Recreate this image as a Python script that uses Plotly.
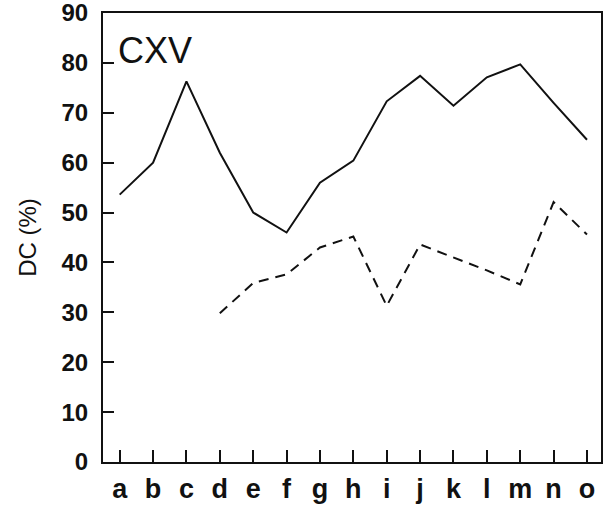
import plotly.graph_objects as go

categories = ["a", "b", "c", "d", "e", "f", "g", "h", "i", "j", "k", "l", "m", "n", "o"]
solid_values = [53.6, 60.0, 76.3, 62.0, 50.0, 46.0, 56.0, 60.4, 72.3, 77.4, 71.4, 77.1, 79.7, 72.0, 64.6]
dashed_values = [None, None, None, 29.8, 35.9, 37.6, 43.0, 45.2, 31.3, 43.6, 41.0, 38.4, 35.6, 52.1, 45.6]
y_ticks = [0, 10, 20, 30, 40, 50, 60, 70, 80, 90]
panel_label = "CXV"
y_title = "DC (%)"

FONT = "Liberation Sans, Arial, Helvetica, sans-serif"
INK = "#111111"

fig = go.Figure()
fig.add_trace(go.Scatter(x=categories, y=solid_values, mode="lines",
                         line=dict(color=INK, width=2), showlegend=False))
fig.add_trace(go.Scatter(x=categories, y=dashed_values, mode="lines",
                         line=dict(color=INK, width=2, dash="10px,7px"),
                         connectgaps=False, showlegend=False))

fig.add_annotation(text=panel_label, xref="paper", yref="paper", x=0.026, y=0.917,
                   xanchor="left", yanchor="middle", showarrow=False,
                   font=dict(family=FONT, size=36, color=INK))

fig.add_annotation(text=y_title, xref="paper", yref="paper", x=-0.152, y=0.5,
                   xanchor="center", yanchor="middle", textangle=-90, showarrow=False,
                   font=dict(family=FONT, size=24, color=INK))

fig.update_layout(
    width=605, height=508,
    margin=dict(l=103, r=4, t=13, b=46),
    paper_bgcolor="white", plot_bgcolor="white",
    font=dict(family=FONT, color=INK),
    xaxis=dict(type="category", range=[-0.5, 14.42], showgrid=False, zeroline=False,
               automargin=False, ticklabeloverflow="allow",
               showline=True, linecolor=INK, linewidth=2, mirror=True,
               ticks="inside", ticklen=12, tickwidth=2, tickcolor=INK,
               ticklabelstandoff=2,
               tickfont=dict(family=FONT, size=27, color=INK, weight="bold")),
    yaxis=dict(range=[0, 90], tickvals=y_ticks, showgrid=False, zeroline=False,
               automargin=False, ticklabeloverflow="allow",
               showline=True, linecolor=INK, linewidth=2, mirror=True,
               ticks="inside", ticklen=11, tickwidth=2, tickcolor=INK,
               ticklabelstandoff=8,
               tickfont=dict(family=FONT, size=24, color=INK, weight="bold")),
)

fig.write_html("out.html", config={"displayModeBar": False},
               post_script="document.body.style.margin='0';document.body.style.overflow='hidden';")
